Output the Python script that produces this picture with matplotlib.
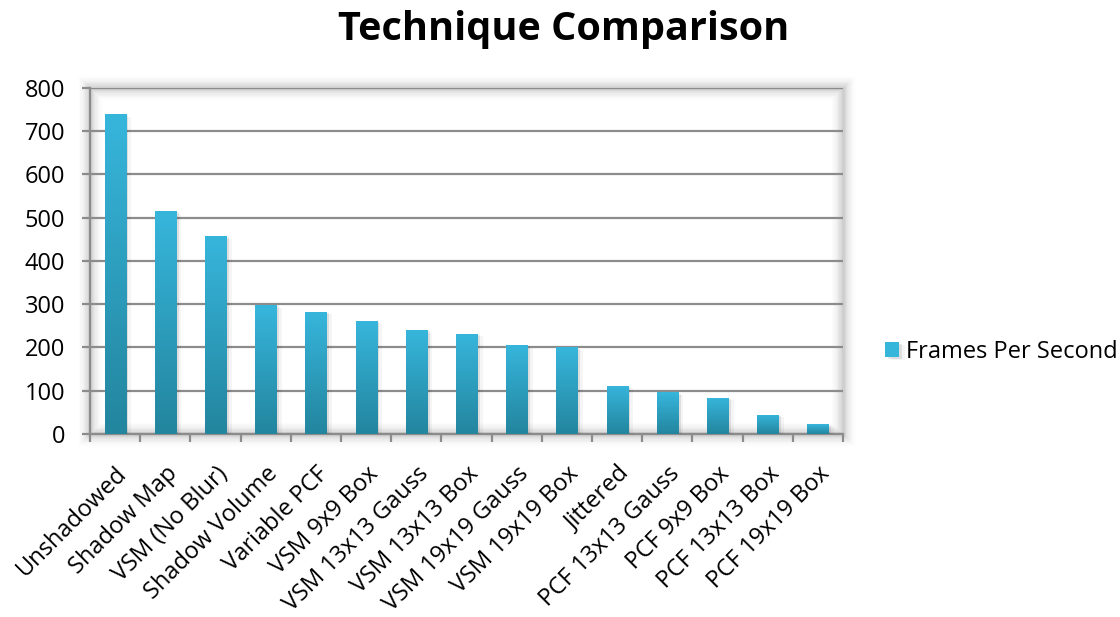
import numpy as np
import matplotlib
matplotlib.use("Agg")
from matplotlib import pyplot as plt
from matplotlib import patheffects as pe
from matplotlib.colors import LinearSegmentedColormap

techniques = ["Unshadowed", "Shadow Map", "VSM (No Blur)", "Shadow Volume",
              "Variable PCF", "VSM 9x9 Box", "VSM 13x13 Gauss", "VSM 13x13 Box",
              "VSM 19x19 Gauss", "VSM 19x19 Box", "Jittered", "PCF 13x13 Gauss",
              "PCF 9x9 Box", "PCF 13x13 Box", "PCF 19x19 Box"]
fps = [740, 516, 458, 298, 283, 262, 241, 232, 206, 200, 112, 96, 84, 45, 22]
series_name = "Frames Per Second"
y_ticks = [0, 100, 200, 300, 400, 500, 600, 700, 800]

TOP_COL = "#37b6dc"
BOT_COL = "#23859e"
GRID_COL = "#8c8c8c"
FS = 17

plt.rcParams['font.family'] = ['Open Sans', 'DejaVu Sans']

fig = plt.figure(figsize=(11.2, 6.17), dpi=100)
ax = fig.add_axes([0.0804, 0.2966, 0.6723, 0.5608])

x = np.arange(len(techniques))
bars = ax.bar(x, fps, width=0.42, color=TOP_COL, zorder=3, label=series_name)

# soft shadow behind each bar, then a vertical gradient clipped to the bar
cmap = LinearSegmentedColormap.from_list("bar", [BOT_COL, TOP_COL])
grad = np.linspace(0, 1, 256).reshape(-1, 1)
for b in bars:
    b.set_path_effects([pe.SimplePatchShadow(offset=(2, -1), shadow_rgbFace="#000000", alpha=0.09),
                        pe.SimplePatchShadow(offset=(4, -2), shadow_rgbFace="#000000", alpha=0.04),
                        pe.Normal()])
    bx, by = b.get_x(), b.get_y()
    im = ax.imshow(grad, cmap=cmap, origin="lower", aspect="auto", zorder=4,
                   extent=(bx, bx + b.get_width(), by, by + b.get_height()))
    im.set_clip_path(b)

ax.set_xlim(-0.5, len(techniques) - 0.5)
ax.set_ylim(0, 800)
ax.set_yticks(y_ticks)
ax.yaxis.grid(True, color=GRID_COL, lw=1.6, zorder=1)
ax.set_axisbelow(True)

# category boundary ticks on x, labels centred under bars
ax.set_xticks(np.arange(-0.5, len(techniques) + 0.5, 1), minor=False)
ax.set_xticklabels([])
ax.set_xticks(x, minor=True)
ax.set_xticklabels(techniques, minor=True, rotation=45, ha="right",
                   rotation_mode="anchor", fontsize=FS)
ax.tick_params(axis="x", which="minor", length=0, pad=20)
ax.tick_params(axis="x", which="major", length=6, width=1.6, color=GRID_COL)
ax.tick_params(axis="y", length=6, width=1.6, color=GRID_COL, labelsize=FS, pad=12)

for s in ["top", "right"]:
    ax.spines[s].set_visible(False)
for s in ["left", "bottom"]:
    ax.spines[s].set_color(GRID_COL)
    ax.spines[s].set_linewidth(1.6)

# faint drop shadow around the plot area
for i in range(1, 11):
    a = 0.035 * (11 - i) / 10
    r = plt.Rectangle((0, 0), 1, 1, transform=ax.transAxes, fill=False,
                      ec="#000000", alpha=a, lw=i * 1.8, zorder=0, clip_on=False)
    ax.add_patch(r)

ax.legend(loc="center left", bbox_to_anchor=(1.056, 0.237), frameon=False,
          fontsize=FS, handlelength=0.6, handleheight=0.6, handletextpad=0.3,
          borderpad=0, borderaxespad=0)

fig.text(0.503, 0.952, "Technique Comparison", ha="center", va="center",
         fontsize=28.5, fontweight="bold")

fig.savefig("out.png", dpi=100)
